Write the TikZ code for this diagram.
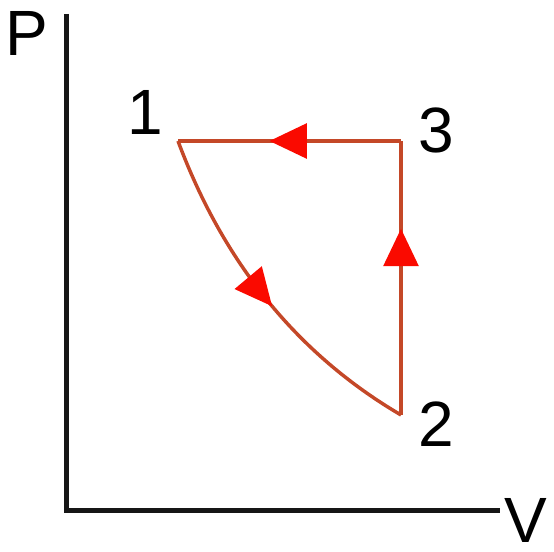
\documentclass[tikz,border=0pt]{standalone}
\usepackage{fontspec}
\setmainfont{Liberation Sans}
\usetikzlibrary{arrows.meta,decorations.markings}
\definecolor{pathc}{RGB}{196,72,40}
\definecolor{arrc}{RGB}{250,10,0}
\definecolor{axisc}{RGB}{22,22,22}
\tikzset{
  axis/.style={draw=axisc, line width=3.75pt, line join=miter},
  cyc/.style={draw=pathc, line width=2.6pt},
  lbl/.style={inner sep=0pt, anchor=center, font=\fontsize{48}{58}\selectfont},
  midarrow/.style={postaction={decorate, decoration={markings,
     mark=at position #1 with {\arrow{Triangle[length=28pt,width=26pt,color=arrc]}}}}}
}
\begin{document}
\begin{tikzpicture}[x=0.75pt,y=-0.75pt]
\useasboundingbox (0,0) rectangle (554,552);
% axes
\coordinate (ytop) at (66.5,14);
\coordinate (orig) at (66.5,510.5);
\coordinate (xend) at (500,510.5);
\draw[axis] (ytop) -- (orig) -- (xend);
\node[lbl] (P) at (27,33) {P};
\node[lbl] (V) at (526,520) {V};
% states
\coordinate (p1) at (178,141);
\coordinate (p3) at (401,141);
\coordinate (p2) at (401,415);
\node[lbl] (l1) at (145,112) {1};
\node[lbl] (l3) at (436,130) {3};
\node[lbl] (l2) at (436,424) {2};
% cycle
\draw[cyc, midarrow=0.59] (p3) -- (p1);
\draw[cyc, midarrow=0.68] (p2) -- (p3);
\draw[cyc, midarrow=0.53] (p1) .. controls (223,262) and (297,354) .. (p2);
\end{tikzpicture}
\end{document}
